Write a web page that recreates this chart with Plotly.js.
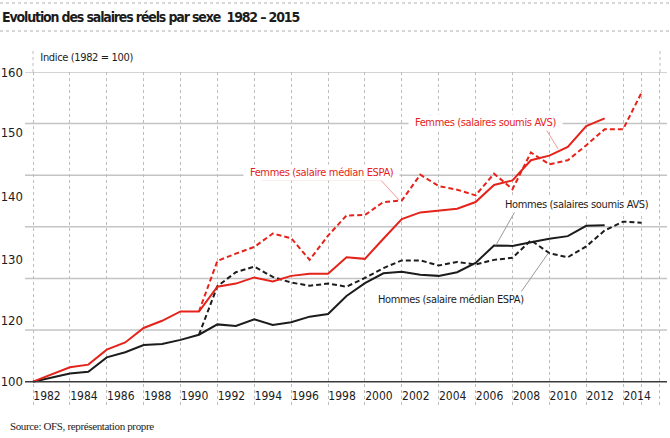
<!DOCTYPE html>
<html>
<head>
<meta charset="utf-8">
<script src="https://cdn.plot.ly/plotly-3.0.1.min.js"></script>
<style>
  html, body { margin: 0; padding: 0; background: #fff; }
  #chart { width: 670px; height: 438px; }
  /* the original uses a narrow typeface */
  #chart .annotation-text { letter-spacing: -0.35px; }
  #chart .gtitle { letter-spacing: -1.15px; }
</style>
</head>
<body>
<div id="chart"></div>
<script>
// ***** Data (index 1982 = 100)
const years = [1982, 1983, 1984, 1985, 1986, 1987, 1988, 1989, 1990, 1991,
               1992, 1993, 1994, 1995, 1996, 1997, 1998, 1999, 2000, 2001,
               2002, 2003, 2004, 2005, 2006, 2007, 2008, 2009, 2010, 2011,
               2012, 2013, 2014, 2015];

// salaires soumis AVS (solid lines), 1982-2013
const femmesAvs = [100, 101.4, 102.8, 103.3, 106.2, 107.6, 110.4, 111.8, 113.6, 113.6,
                   118.4, 119.0, 120.2, 119.4, 120.5, 120.9, 120.9, 124.1, 123.8, 127.7,
                   131.5, 132.8, 133.2, 133.5, 134.8, 138.1, 139.0, 142.9, 143.8, 145.5,
                   149.5, 151.0, null, null];
const hommesAvs = [100, 100.8, 101.6, 101.9, 104.7, 105.7, 107.1, 107.3, 108.1, 109.1,
                   111.1, 110.8, 112.1, 111.0, 111.5, 112.6, 113.1, 116.6, 119.1, 121.0,
                   121.3, 120.7, 120.5, 121.2, 123.0, 126.4, 126.3, 127.0, 127.7, 128.2,
                   130.2, 130.3, null, null];

// salaire médian ESPA (dashed lines), 1991-2015
const femmesEspa = [null, null, null, null, null, null, null, null, null, 113.6,
                    123.4, 124.8, 126.1, 128.7, 127.8, 123.6, 128.3, 132.2, 132.3, 134.8,
                    135.1, 140.1, 137.9, 137.2, 136.1, 140.3, 137.3, 144.4, 142.1, 142.9,
                    145.8, 148.9, 148.9, 156.0];
const hommesEspa = [null, null, null, null, null, null, null, null, null, 109.1,
                    118.5, 121.2, 122.3, 120.3, 119.2, 118.6, 119.0, 118.4, 120.1, 122.0,
                    123.5, 123.5, 122.5, 123.2, 122.7, 123.6, 124.0, 127.4, 124.9, 124.1,
                    126.2, 129.3, 131.0, 130.8];

// axis labels
const xTickVals = [1982, 1984, 1986, 1988, 1990, 1992, 1994, 1996, 1998, 2000,
                   2002, 2004, 2006, 2008, 2010, 2012, 2014, 2015, 2016];
const xTickText = ['1982', '1984', '1986', '1988', '1990', '1992', '1994', '1996', '1998', '2000',
                   '2002', '2004', '2006', '2008', '2010', '2012', '2014', '', ''];
const yGrid = [110, 120, 130, 140, 150, 160];
// the printed labels do not sit on the grid lines in the original
const yTickVals = [100, 111.8, 123.6, 135.9, 148.3, 160];
const yTickText = ['100', '120', '130', '140', '150', '160'];

// ***** Styles
const NARROW = '"Liberation Sans Narrow", "DejaVu Sans Condensed", "Open Sans", sans-serif';
const RED = '#e5231b';
const BLACK = '#1c1c1c';
const DASH = '5px,3px';

// plot area in pixels (used to place frame decorations)
const M = { l: 25, r: 3, t: 72, b: 33 };
const W = 670, H = 438;
const plotW = W - M.l - M.r;
const plotH = H - M.t - M.b;
const px = (x) => (x - M.l) / plotW;
const py = (y) => (H - M.b - y) / plotH;

const line = (y, color, dash) => ({
    x: years, y: y, type: 'scatter', mode: 'lines', connectgaps: false,
    line: { color: color, width: 2, dash: dash || 'solid' },
    hoverinfo: 'skip'
});

const data = [
    line(hommesEspa, BLACK, DASH),
    line(hommesAvs, BLACK),
    line(femmesEspa, RED, DASH),
    line(femmesAvs, RED)
];

// ***** Shapes: grid, frame and leader lines
const shapes = [];
yGrid.forEach(v => {
    shapes.push({ type: 'line', xref: 'paper', yref: 'y', x0: 0, x1: 1, y0: v, y1: v,
                  layer: 'below', line: { color: '#c4c4c4', width: 1.5 } });
});
// baseline 100
shapes.push({ type: 'line', xref: 'paper', yref: 'y', x0: 0, x1: 1, y0: 100, y1: 100,
              layer: 'above', line: { color: '#3a3a3a', width: 1.5 } });
// outer dotted verticals reach up to the unit label
[33, 660].forEach(x => {
    shapes.push({ type: 'line', xref: 'paper', yref: 'paper', x0: px(x), x1: px(x),
                  y0: py(72), y1: py(50), layer: 'below',
                  line: { color: '#bdbdbd', width: 1, dash: 'dot' } });
});
// dotted rules around the title
[3, 31].forEach(y => {
    shapes.push({ type: 'line', xref: 'paper', yref: 'paper', x0: px(0), x1: px(670),
                  y0: py(y), y1: py(y), line: { color: '#b0b0b0', width: 1, dash: 'dot' } });
});

const leader = (pts, color) => ({
    type: 'path', xref: 'x', yref: 'y', layer: 'above',
    path: pts.map((p, i) => (i ? 'L' : 'M') + p[0] + ',' + p[1]).join(' '),
    line: { color: color, width: 1 }
});
shapes.push(leader([[1994.39, 139.1], [2000.85, 139.1], [2001.85, 135.2]], '#f29a96'));
shapes.push(leader([[2003.34, 149.2], [2009.77, 149.2], [2010.47, 145.1]], '#f29a96'));
shapes.push(leader([[2007.1, 126.4], [2008.14, 133.0], [2014.7, 133.0]], '#9a9a9a'));
shapes.push(leader([[2001.36, 114.6], [2007.92, 114.6], [2009.94, 124.9]], '#9a9a9a'));

// ***** Annotations
const label = (text, x, y, color) => ({
    text: text, x: x, y: y, xref: 'x', yref: 'y', showarrow: false,
    bgcolor: '#ffffff', borderpad: 1,
    font: { family: NARROW, size: 11, color: color }
});

const annotations = [
    label('Femmes (salaire médian ESPA)', 1997.67, 140.47, RED),
    label('Femmes (salaires soumis AVS)', 2006.55, 150.2, RED),
    label('Hommes (salaires soumis AVS)', 2011.45, 134.3, BLACK),
    label('Hommes (salaire médian ESPA)', 2004.67, 115.9, BLACK),
    { text: 'Indice (1982 = 100)', xref: 'paper', yref: 'paper', x: px(35), y: py(57),
      xanchor: 'left', yanchor: 'middle', showarrow: false,
      font: { family: NARROW, size: 11, color: BLACK } },
    { text: 'Source: OFS, représentation propre', xref: 'paper', yref: 'paper',
      x: px(2), y: py(426), xanchor: 'left', yanchor: 'middle', showarrow: false,
      font: { family: '"Liberation Serif", "DejaVu Serif", serif', size: 11, color: BLACK } }
];

const layout = {
    width: W, height: H,
    margin: { l: M.l, r: M.r, t: M.t, b: M.b, autoexpand: false },
    paper_bgcolor: '#ffffff', plot_bgcolor: '#ffffff',
    showlegend: false,
    title: {
        text: '<b>Evolution des salaires réels par sexe  1982 – 2015</b>',
        xref: 'container', yref: 'container', x: 2 / W, y: 1 - 17 / H,
        xanchor: 'left', yanchor: 'middle',
        font: { family: NARROW, size: 14, color: BLACK }
    },
    xaxis: {
        range: [1981.566, 2016.38], tickmode: 'array', tickvals: xTickVals, ticktext: xTickText,
        showgrid: true, gridcolor: '#bdbdbd', gridwidth: 1, griddash: 'dot',
        zeroline: false, showline: false, ticks: '',
        ticklabelposition: 'inside', ticklabelshift: 14, ticklabelstandoff: 0,
        tickfont: { family: NARROW, size: 12, color: BLACK }, fixedrange: true
    },
    yaxis: {
        range: [95.48, 160], tickmode: 'array', tickvals: yTickVals, ticktext: yTickText,
        showgrid: false, zeroline: false, showline: false, ticks: '', ticklabelstandoff: 1,
        tickfont: { family: NARROW, size: 13, color: BLACK }, fixedrange: true
    },
    shapes: shapes,
    annotations: annotations
};

Plotly.newPlot('chart', data, layout, { staticPlot: true, displayModeBar: false });
</script>
</body>
</html>
